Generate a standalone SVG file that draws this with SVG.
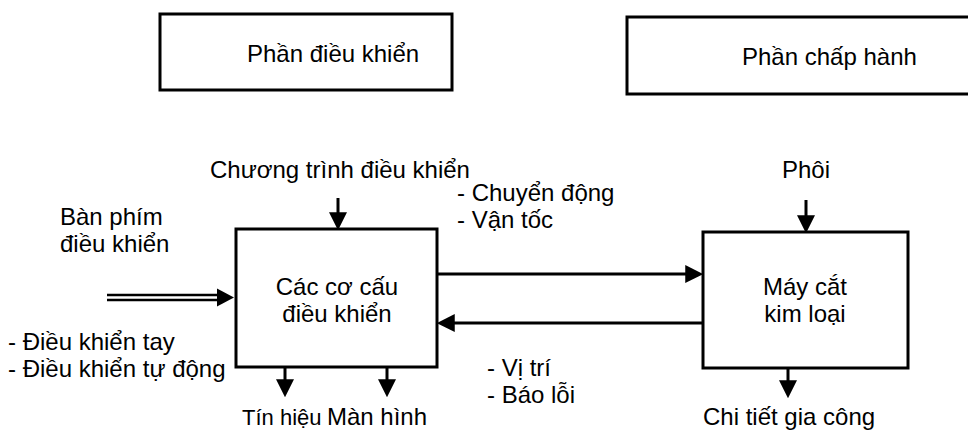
<svg xmlns="http://www.w3.org/2000/svg" width="968" height="432" viewBox="0 0 968 432">
<style>
.box{fill:#fff;stroke:#000;stroke-width:3}
.t{font-family:"Liberation Sans",Arial,sans-serif;font-size:24px;fill:#000}
.m{text-anchor:middle}
.c{stroke:#000;stroke-width:3;fill:none}
</style>
<defs>
<marker id="ah" markerUnits="userSpaceOnUse" markerWidth="18" markerHeight="18" refX="6" refY="8" orient="auto" viewBox="0 0 16 16">
<path d="M0,0 L16,8 L0,16 z" fill="#000"/>
</marker>
</defs>
<rect width="968" height="432" fill="#fff"/>
<g id="phan-dieu-khien">
<rect class="box" x="160" y="14" width="292" height="76"/>
<text class="t" x="247" y="62">Phần điều khiển</text>
</g>
<g id="phan-chap-hanh">
<rect class="box" x="627" y="17" width="360" height="77"/>
<text class="t" x="742" y="65">Phần chấp hành</text>
</g>
<g id="chuong-trinh">
<text class="t" x="210" y="178">Chương trình điều khiển</text>
</g>
<g id="ban-phim">
<text class="t" x="60" y="225">Bàn phím</text>
<text class="t" x="60" y="252">điều khiển</text>
</g>
<g id="chuyen-dong">
<text class="t" x="457" y="201">- Chuyển động</text>
<text class="t" x="457" y="228">- Vận tốc</text>
</g>
<g id="phoi">
<text class="t" x="782" y="178">Phôi</text>
</g>
<g id="co-cau">
<rect class="box" x="236" y="229" width="201" height="138"/>
<text class="t m" x="337" y="295">Các cơ cấu</text>
<text class="t m" x="337" y="322">điều khiển</text>
</g>
<g id="may-cat">
<rect class="box" x="703" y="232" width="205" height="136"/>
<text class="t m" x="805" y="295">Máy cắt</text>
<text class="t m" x="805" y="322">kim loại</text>
</g>
<g id="dieu-khien-tay">
<text class="t" x="8" y="350">- Điều khiển tay</text>
<text class="t" x="8" y="377">- Điều khiển tự động</text>
</g>
<g id="vi-tri">
<text class="t" x="487" y="376">- Vị trí</text>
<text class="t" x="487" y="403">- Báo lỗi</text>
</g>
<g id="tin-hieu"><text class="t" x="242" y="425" style="font-size:22px">Tín hiệu</text></g>
<g id="man-hinh"><text class="t" x="327" y="425">Màn hình</text></g>
<g id="chi-tiet"><text class="t" x="703" y="425">Chi tiết gia công</text></g>
<g id="connectors">
<line class="c" x1="338" y1="198" x2="338" y2="219" marker-end="url(#ah)"/>
<line class="c" x1="806" y1="200" x2="806" y2="222" marker-end="url(#ah)"/>
<line class="c" x1="437" y1="274" x2="692" y2="274" marker-end="url(#ah)"/>
<line class="c" x1="703" y1="323" x2="448" y2="323" marker-end="url(#ah)"/>
<line class="c" x1="285" y1="367" x2="285" y2="386" marker-end="url(#ah)"/>
<line class="c" x1="387" y1="367" x2="387" y2="386" marker-end="url(#ah)"/>
<line class="c" x1="788" y1="368" x2="788" y2="387" marker-end="url(#ah)"/>
<line stroke="#000" stroke-width="2.5" x1="107" y1="295" x2="220" y2="295"/>
<line stroke="#000" stroke-width="2.5" x1="107" y1="300" x2="220" y2="300"/>
<polygon points="217,288.5 234,297.5 217,306.5" fill="#000"/>
</g>
</svg>
